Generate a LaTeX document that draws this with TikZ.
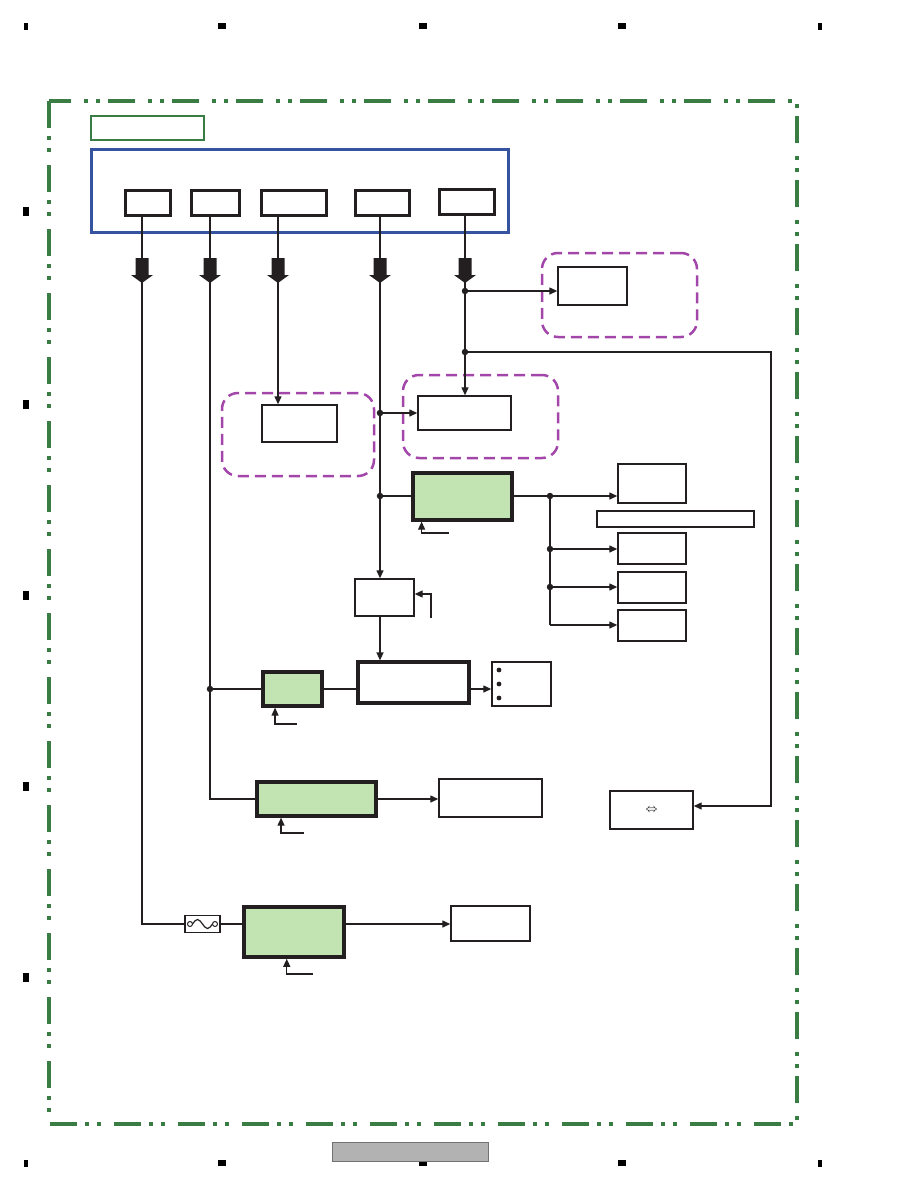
\documentclass[tikz,border=0pt]{standalone}
\usepackage{tikz}
\usetikzlibrary{arrows.meta,positioning,calc}
\definecolor{ink}{HTML}{231F20}
\definecolor{frame}{HTML}{3A7D44}
\definecolor{navy}{HTML}{3553A0}
\definecolor{plum}{HTML}{A346AA}
\definecolor{leaf}{HTML}{C2E4B2}
\begin{document}
\begin{tikzpicture}[x=1pt,y=-1pt,
      tbox/.style={draw=ink,line width=1.4pt,inner sep=0pt},
      thk/.style={draw=ink,line width=3pt,inner sep=0pt},
      grn/.style={draw=ink,fill=leaf,line width=3.3pt,inner sep=0pt},
      zone/.style={draw=plum,line width=2.5pt,dash pattern=on 11pt off 6pt,
                   rounded corners=16pt,inner sep=0pt},
      wh/.style 2 args={minimum width=#1pt,minimum height=#2pt},
      jn/.style={circle,fill=ink,inner sep=0pt,minimum size=6.5pt},
      ln/.style={ink,line width=1.3pt},
      ar/.style={ln,-{Triangle[length=8pt,width=7pt]}}]
    \useasboundingbox (0,0) rectangle (918,1188);

    % page marks
    \foreach \x in {222,423,622}{
      \fill[black] (\x-4,23) rectangle ++(8,6);
      \fill[black] (\x-4,1160) rectangle ++(8,6);}
    \foreach \x in {26,820}{
      \fill[black] (\x-2,23) rectangle ++(4,7);
      \fill[black] (\x-2,1160) rectangle ++(4,7);}
    \foreach \y in {211,404,595,786,977}{
      \fill[black] (23,\y-4.5) rectangle ++(6,9);}
    \draw[draw=black!55,fill=black!30,line width=0.8pt] (332,1142) rectangle (488,1161);

    % outer frame
    \draw[frame,line width=3.2pt,dash pattern=on 27pt off 8pt on 4pt off 8pt on 4pt off 13pt]
      (49,101) rectangle (797,1124);

    % supply
    \node[draw=frame,line width=2.2pt,inner sep=0pt,wh={113}{24}] (tag) at (147.5,128) {};
    \node[draw=navy,line width=3pt,inner sep=0pt,wh={417}{83}] (brd) at (299.5,190.5) {};
    \node[thk,wh={45}{25}] (c1) at (147.5,202.5) {};
    \node[thk,wh={48}{25}] (c2) at (215,202.5) {};
    \node[thk,wh={65}{25}] (c3) at (293.5,202.5) {};
    \node[thk,wh={54}{25}] (c4) at (382,202.5) {};
    \node[thk,wh={55}{25}] (c5) at (466.5,201.5) {};
    \foreach \x/\n in {142/1,210/2,278/3,380/4,465/5}{
      \coordinate (t\n) at (\x,283);}

    % dashed groups
    \node[zone,wh={155}{84}] (zA) at (619.5,295) {};
    \node[zone,wh={155}{83}] (zB) at (480.5,416.5) {};
    \node[zone,wh={152}{83}] (zC) at (298,434.5) {};

    % blocks
    \node[tbox,wh={69}{38}] (rx) at (592.5,286) {};
    \node[tbox,wh={93}{34}] (mx) at (464.5,413) {};
    \node[tbox,wh={75}{37}] (lx) at (299.5,423.5) {};
    \node[grn,wh={99}{47}] (g1) at (462.5,496.5) {};
    \node[tbox,wh={68}{39}] (o1) at (652,483.5) {};
    \node[tbox,wh={157}{16}] (bar) at (675.5,519) {};
    \node[tbox,wh={68}{31}] (o2) at (652,548.5) {};
    \node[tbox,wh={68}{31}] (o3) at (652,587.5) {};
    \node[tbox,wh={68}{31}] (o4) at (652,625.5) {};
    \node[tbox,wh={59}{37}] (sx) at (384.5,597.5) {};
    \node[thk,line width=3.2pt,wh={111}{41}] (px) at (413.5,682.5) {};
    \node[grn,wh={59}{34}] (g2) at (292.5,689) {};
    \node[tbox,wh={59}{44}] (bl) at (521.5,684) {};
    \node[grn,wh={119}{34}] (g3) at (316.5,799) {};
    \node[tbox,wh={103}{38}] (o5) at (490.5,798) {};
    \node[tbox,wh={83}{38}] (lp) at (651.5,810) {\large$\Leftrightarrow$};
    \node[tbox,line width=1.1pt,wh={35}{17}] (fu) at (202.5,924) {};
    \node[grn,line width=3.6pt,wh={100}{50}] (g4) at (294,932) {};
    \node[tbox,wh={79}{35}] (o6) at (490.5,923.5) {};
    \foreach \y in {670,684,698}{
      \fill[ink] (499,\y) circle (2.4);}

    % junctions
    \node[jn] (j1) at (465,291) {};
    \node[jn] (j2) at (465,352) {};
    \node[jn] (j3) at (380,413) {};
    \node[jn] (j4) at (380,496) {};
    \node[jn] (j5) at (550,496) {};
    \node[jn] (j6) at (550,549) {};
    \node[jn] (j7) at (550,587) {};
    \node[jn] (j8) at (210,689) {};
    \coordinate (k1) at (550,625);
    \coordinate (k2) at (771,806);

    % wiring
    \draw[ln] (c1.south -| t1) |- (fu.west);
    \draw[ln] (fu.east) -- (g4.west |- fu.east);
    \draw[ar] (g4.east |- fu.east) -- (o6.west |- fu.east);
    \draw[ln] (c2.south -| t2) |- (g3.west);
    \draw[ar] (g3.east) -- (o5.west |- g3.east);
    \draw[ln] (j8) -- (g2.west);
    \draw[ln] (g2.east) -- (px.west |- g2.east);
    \draw[ar] (px.east |- g2.east) -- (bl.west |- g2.east);
    \draw[ar] (c3.south -| t3) -- (lx.north -| t3);
    \draw[ar] (c4.south -| t4) -- (sx.north -| t4);
    \draw[ar] (j3) -- (mx.west |- j3);
    \draw[ln] (j4) -- (g1.west |- j4);
    \draw[ar] (sx.south -| t4) -- (px.north -| t4);
    \draw[ar] (c5.south -| t5) -- (mx.north -| t5);
    \draw[ar] (j1) -- (rx.west |- j1);
    \draw[ar] (j2) -| (k2) -- (lp.east |- k2);
    \draw[ln] (g1.east |- j5) -- (j5);
    \draw[ar] (j5) -- (o1.west |- j5);
    \draw[ln] (j5) -- (k1);
    \draw[ar] (j6) -- (o2.west |- j6);
    \draw[ar] (j7) -- (o3.west |- j7);
    \draw[ar] (k1) -- (o4.west |- k1);

    % control inputs
    \coordinate (q1) at (449,533);
    \coordinate (q2) at (431,618);
    \coordinate (q3) at (297,724);
    \coordinate (q4) at (304,833);
    \coordinate (q5) at (313,974);
    \draw[ar] (q1) -| ($(g1.south west)!0.1!(g1.south east)$);
    \draw[ar] (q2) |- ($(sx.east)+(0,-3.5)$);
    \draw[ar] (q3) -| ($(g2.south west)!0.22!(g2.south east)$);
    \draw[ar] (q4) -| ($(g3.south west)!0.21!(g3.south east)$);
    \draw[ar] (q5) -| ($(g4.south west)!0.43!(g4.south east)$);

    % block arrows
    \foreach \x in {142,210,278,380,465}{
      \fill[ink] (\x-6.5,258) -- (\x+6.5,258) -- (\x+6.5,275) -- (\x+11,275)
        -- (\x,283) -- (\x-11,275) -- (\x-6.5,275) -- cycle;}

    % fuse symbol
    \draw[ink,line width=1.2pt] ($(fu.center)+(-10,0)$) sin ++(5,-4.5) cos ++(5,4.5)
      sin ++(5,4.5) cos ++(5,-4.5);
    \draw[ink,line width=1pt,fill=white] ($(fu.center)+(-12.5,0)$) circle (2.5);
    \draw[ink,line width=1pt,fill=white] ($(fu.center)+(12.5,0)$) circle (2.5);
  \end{tikzpicture}
\end{document}
